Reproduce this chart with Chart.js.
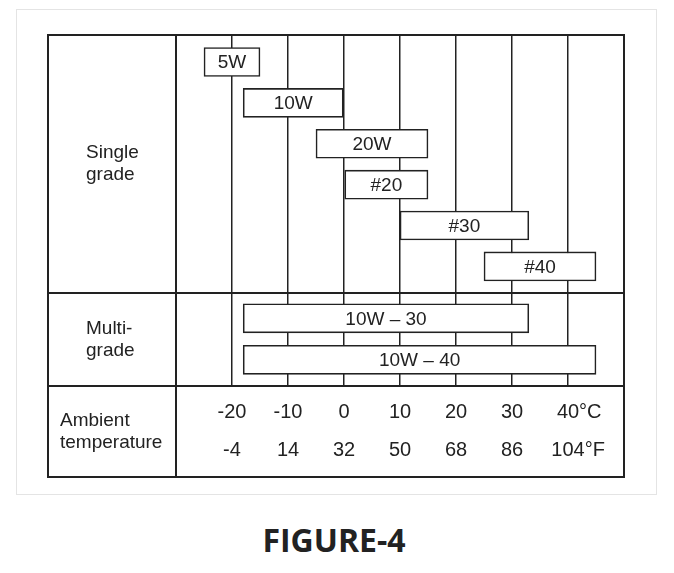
<!DOCTYPE html>
<html>
<head>
<meta charset="utf-8">
<script src="https://cdn.jsdelivr.net/npm/chart.js@4.4.1/dist/chart.umd.min.js"></script>
<style>
  body { margin: 0; background: #fff; }
  #wrap { position: relative; width: 674px; height: 573px; }
  #grafica { position: absolute; left: 0; top: 0; }
  #caption {
    position: absolute; left: 0; top: 520px; width: 668px;
    text-align: center; font: 700 32px 'Open Sans', sans-serif;
    line-height: 40px; color: #222;
  }
</style>
</head>
<body>
<div id="wrap">
  <canvas id="grafica" width="674" height="500"></canvas>
  <div id="caption">FIGURE-4</div>
</div>
<script>
// oil grades and the ambient temperature ranges they cover (°C)
const singleGrades = ['5W', '10W', '20W', '#20', '#30', '#40'];
const singleFrom = [-25, -18, -5, 0, 10, 25];
const singleTo = [-15, 0, 15, 15, 33, 45];
const multiGrades = ['10W – 30', '10W – 40'];
const multiFrom = [-18, -18];
const multiTo = [33, 45];

// temperature scale
const tickValues = [-20, -10, 0, 10, 20, 30, 40];
const celsiusLabels = ['-20', '-10', '0', '10', '20', '30', '40'];
const fahrenheitLabels = ['-4', '14', '32', '50', '68', '86', '104'];
const unitLabels = ['°C', '°F'];
const axisMin = -30;
const axisMax = 50;

const groupNames = [['Single', 'grade'], ['Multi-', 'grade'], ['Ambient', 'temperature']];

const ink = '#222';
const tickFont = { family: 'Liberation Sans', size: 20, lineHeight: 1.9 };
const $grafica = document.querySelector('#grafica');

// one row per grade, row number = position in the list
const rows = (from, to) => from.map((v, i) => ({ y: i, x: [v, to[i]] }));

const boxStyle = {
  backgroundColor: '#fff',
  borderColor: ink,
  borderWidth: 1.6,
  borderSkipped: false,
  barThickness: 29,
  grouped: false, // each dataset lives on its own row axis
};

const tableFrame = {
  id: 'tableFrame',
  beforeDraw(chart) {
    const { ctx } = chart;
    ctx.save();
    ctx.strokeStyle = '#e4e4e4';
    ctx.lineWidth = 1;
    ctx.strokeRect(16.5, 9.5, 640, 485);
    ctx.restore();
  },
  afterDatasetsDraw(chart) {
    const { ctx, chartArea } = chart;
    const { x, y, y2 } = chart.scales;
    const left = chartArea.left - 128;
    const right = chartArea.right;
    const top = chartArea.top;
    const bottom = x.bottom;
    ctx.save();
    ctx.strokeStyle = ink;
    ctx.lineWidth = 2;
    ctx.strokeRect(left, top, right - left, bottom - top);
    ctx.beginPath();
    ctx.moveTo(chartArea.left, top);
    ctx.lineTo(chartArea.left, bottom);
    ctx.moveTo(left, y.bottom);
    ctx.lineTo(right, y.bottom);
    ctx.moveTo(left, x.top);
    ctx.lineTo(right, x.top);
    ctx.stroke();

    // names inside the bars
    ctx.fillStyle = ink;
    ctx.font = '19px "Liberation Sans", Arial, sans-serif';
    ctx.textAlign = 'center';
    ctx.textBaseline = 'middle';
    const names = [singleGrades, multiGrades];
    chart.data.datasets.forEach((ds, i) => {
      chart.getDatasetMeta(i).data.forEach((bar, j) => {
        ctx.fillText(names[i][j], (bar.x + bar.base) / 2, bar.y + 1);
      });
    });

    // group names in the left column
    ctx.textAlign = 'left';
    const sections = [
      [y.top, y.bottom, left + 38],
      [y2.top, y2.bottom, left + 38],
      [x.top, x.bottom, left + 12],
    ];
    sections.forEach(([t, b, tx], k) => {
      const mid = (t + b) / 2;
      ctx.fillText(groupNames[k][0], tx, mid - 11);
      ctx.fillText(groupNames[k][1], tx, mid + 11);
    });

    // units after the last temperature
    const last = tickValues.length - 1;
    const px = x.getPixelForValue(tickValues[last]);
    ctx.font = `${tickFont.size}px "Liberation Sans"`;
    const lineH = tickFont.size * tickFont.lineHeight;
    [celsiusLabels[last], fahrenheitLabels[last]].forEach((txt, k) => {
      const w = ctx.measureText(txt).width;
      ctx.fillText(unitLabels[k], px + w / 2, x.top + 7 + lineH / 2 + k * lineH);
    });
    ctx.restore();
  },
};

const hiddenRows = {
  type: 'linear',
  position: 'left',
  stack: 'rows',
  reverse: true,
  offset: false,
  grid: { display: false, drawTicks: false },
  border: { display: false },
  ticks: { display: false },
  afterFit: (scale) => { scale.width = 0; },
};

// eslint-disable-next-line no-new, no-undef
new Chart($grafica, {
  type: 'bar',
  data: {
    datasets: [
      { label: 'Single grade', data: rows(singleFrom, singleTo), yAxisID: 'y', ...boxStyle },
      { label: 'Multi-grade', data: rows(multiFrom, multiTo), yAxisID: 'y2', ...boxStyle },
    ],
  },
  options: {
    indexAxis: 'y',
    responsive: false,
    devicePixelRatio: 1,
    animation: false,
    layout: { padding: { top: 35, left: 176, right: 50, bottom: 23 } },
    scales: {
      x: {
        type: 'linear',
        min: axisMin,
        max: axisMax,
        grid: { color: ink, lineWidth: 1.5, drawTicks: false },
        border: { display: false },
        afterFit: (scale) => { scale.height = 91; },
        ticks: {
          stepSize: 10,
          autoSkip: false,
          maxRotation: 0,
          padding: 7,
          color: ink,
          font: tickFont,
          callback: (value) => {
            const i = tickValues.indexOf(value);
            return i < 0 ? '' : [celsiusLabels[i], fahrenheitLabels[i]];
          },
        },
      },
      y: { ...hiddenRows, min: -0.66, max: 5.65, stackWeight: 258, weight: 1 },
      y2: { ...hiddenRows, min: -0.61, max: 1.63, stackWeight: 93, weight: 0 },
    },
    plugins: {
      legend: { display: false },
      tooltip: { enabled: false },
      colors: { enabled: false },
    },
  },
  plugins: [tableFrame],
});
</script>
</body>
</html>
